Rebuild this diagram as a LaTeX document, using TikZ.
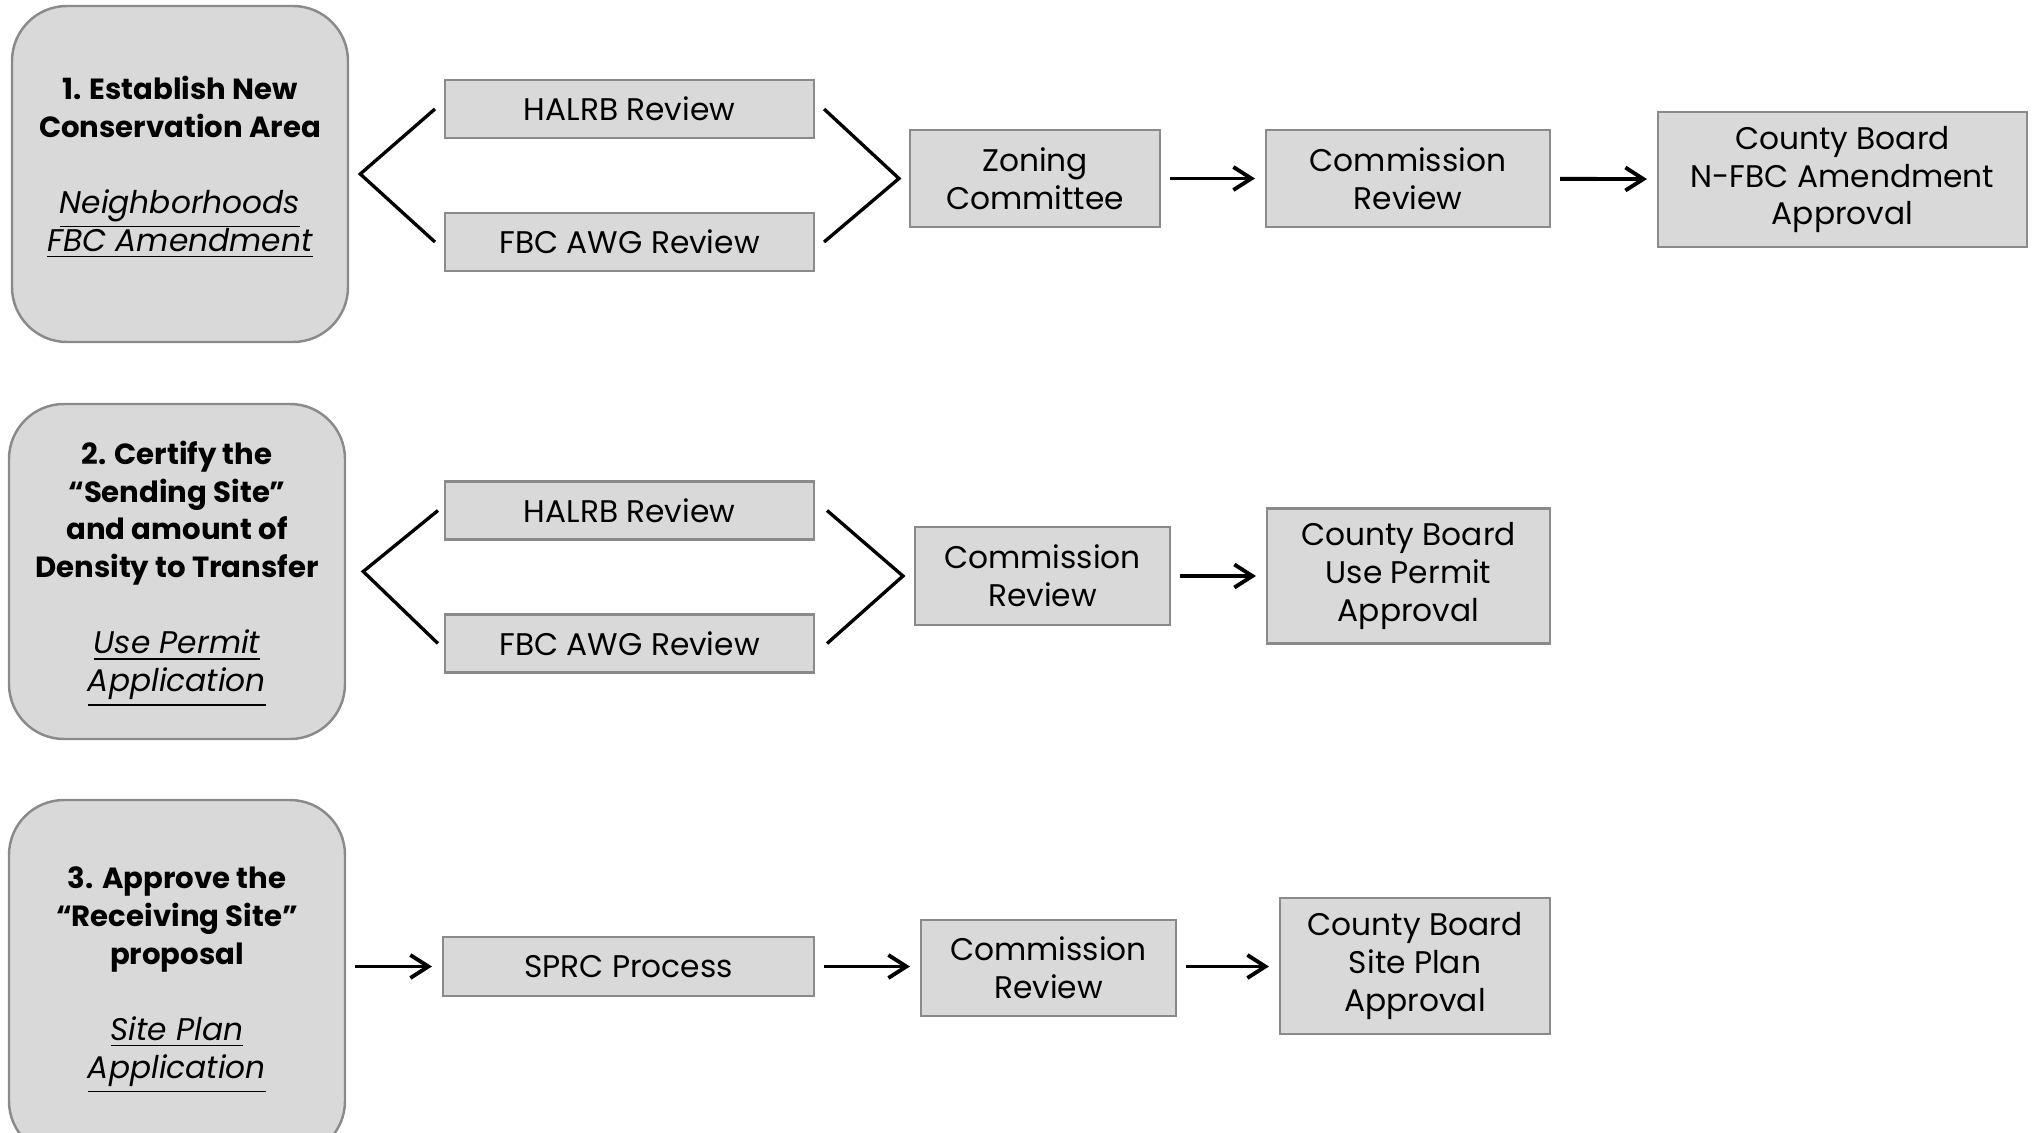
\documentclass[tikz,border=0pt]{standalone}
\usepackage{fontspec}
\setmainfont{Poppins}
\usetikzlibrary{arrows.meta,calc}
\definecolor{boxfill}{HTML}{D9D9D9}
\definecolor{boxline}{HTML}{8A8A8A}
\tikzset{>={Straight Barb[length=1.8mm,width=2.3mm]}}
\tikzstyle{stagebox}=[rectangle,rounded corners=0.55cm,draw=boxline,fill=boxfill,line width=0.7pt,minimum width=3.36cm,inner sep=0pt,text depth=3pt,align=center,font=\fontsize{8.9}{10.8}\selectfont]
\tikzstyle{taskbox}=[rectangle,draw=boxline,fill=boxfill,line width=0.6pt,inner sep=0pt,align=center,font=\fontsize{8.9}{10.8}\selectfont]
\tikzstyle{flow}=[->,line width=1.1pt,shorten <=0.09cm,shorten >=0.1cm]
\tikzstyle{fork}=[-,line width=0.95pt]
\newcommand{\stagehead}[1]{{\fontsize{8.3}{10.8}\selectfont\bfseries #1}}
\newcommand{\stagenote}[1]{\smash{\textit{\underline{#1}}}}

\begin{document}
\begin{tikzpicture}
	\useasboundingbox (0,0) rectangle (20.36,-11.32);
	\clip (0,0) rectangle (20.36,-11.32);
	\def \revx {6.295};
	\def \revw {3.69};

	\node[stagebox, minimum height=3.36cm, text depth=6pt] (stageA) at (1.80,-1.74) {\stagehead{1. Establish New}\\\stagehead{Conservation Area}\\[10.8pt]\stagenote{Neighborhoods}\\\stagenote{FBC Amendment}};
	\node[taskbox, minimum width=\revw cm, minimum height=0.58cm] (halrbA) at (\revx,-1.09) {HALRB Review};
	\node[taskbox, minimum width=\revw cm, minimum height=0.58cm] (fbcA) at (\revx,-2.42) {FBC AWG Review};
	\node[taskbox, minimum width=2.5cm, minimum height=0.97cm] (zoning) at (10.35,-1.785) {Zoning\\Committee};
	\node[taskbox, minimum width=2.84cm, minimum height=0.97cm] (commA) at (14.08,-1.785) {Commission\\Review};
	\node[taskbox, minimum width=3.69cm, minimum height=1.35cm] (countyA) at (18.425,-1.795) {County Board\\N-FBC Amendment\\Approval};

	\draw[fork] ([xshift=-0.09cm]halrbA.west) -- ([xshift=0.11cm]stageA.east) -- ([xshift=-0.09cm]fbcA.west);
	\draw[fork] ([xshift=0.09cm]halrbA.east) -- ([xshift=-0.1cm]zoning.west) -- ([xshift=0.09cm]fbcA.east);
	\draw[flow] (zoning) -- (commA);
	\draw[flow] (commA) -- (countyA);

	\node[stagebox, minimum height=3.35cm] (stageB) at (1.77,-5.715) {\stagehead{2. Certify the}\\\stagehead{“Sending Site”}\\\stagehead{and amount of}\\\stagehead{Density to Transfer}\\[10.8pt]\stagenote{Use Permit}\\\stagenote{Application}};
	\node[taskbox, minimum width=\revw cm, minimum height=0.58cm] (halrbB) at (\revx,-5.105) {HALRB Review};
	\node[taskbox, minimum width=\revw cm, minimum height=0.58cm] (fbcB) at (\revx,-6.435) {FBC AWG Review};
	\node[taskbox, minimum width=2.55cm, minimum height=0.98cm] (commB) at (10.425,-5.76) {Commission\\Review};
	\node[taskbox, minimum width=2.83cm, minimum height=1.35cm] (countyB) at (14.085,-5.76) {County Board\\Use Permit\\Approval};

	\draw[fork] ([xshift=-0.06cm]halrbB.west) -- ([xshift=0.17cm]stageB.east) -- ([xshift=-0.06cm]fbcB.west);
	\draw[fork] ([xshift=0.12cm]halrbB.east) -- ([xshift=-0.11cm]commB.west) -- ([xshift=0.12cm]fbcB.east);
	\draw[flow] (commB) -- (countyB);

	\node[stagebox, minimum height=3.56cm] (stageC) at (1.77,-9.78) {\stagehead{3. Approve the}\\\stagehead{“Receiving Site”}\\\stagehead{proposal}\\[10.8pt]\stagenote{Site Plan}\\\stagenote{Application}};
	\node[taskbox, minimum width=3.71cm, minimum height=0.59cm] (sprc) at (6.285,-9.665) {SPRC Process};
	\node[taskbox, minimum width=2.55cm, minimum height=0.96cm] (commC) at (10.485,-9.68) {Commission\\Review};
	\node[taskbox, minimum width=2.70cm, minimum height=1.36cm] (countyC) at (14.15,-9.66) {County Board\\Site Plan\\Approval};

	\draw[flow] (stageC.east |- sprc.west) -- (sprc.west);
	\draw[flow] (sprc) -- (sprc.east -| commC.west);
	\draw[flow] (commC.east |- sprc.east) -- (sprc.east -| countyC.west);
\end{tikzpicture}
\end{document}
